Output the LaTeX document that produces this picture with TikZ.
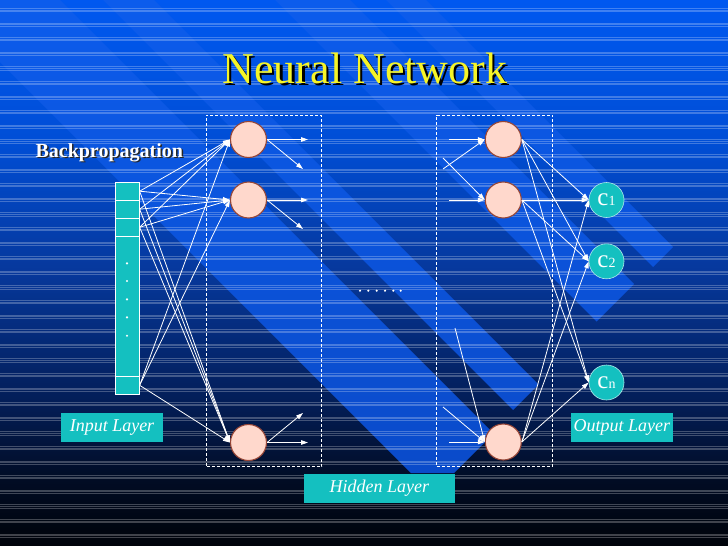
\documentclass[tikz,border=0pt]{standalone}
\usepackage{fontspec}
\setmainfont{Liberation Serif}
\usetikzlibrary{arrows.meta}
\definecolor{bgA}{RGB}{0,88,240}
\definecolor{bgB}{RGB}{0,78,214}
\definecolor{bgC}{RGB}{6,56,156}
\definecolor{bgD}{RGB}{3,30,88}
\definecolor{bgE}{RGB}{1,12,36}
\definecolor{bgF}{RGB}{0,3,10}
\definecolor{bandtop}{RGB}{12,92,236}
\definecolor{bandbot}{RGB}{10,72,196}
\definecolor{tealc}{RGB}{20,192,192}
\definecolor{peach}{RGB}{255,216,204}
\definecolor{nborder}{RGB}{150,70,55}
\definecolor{titley}{RGB}{245,245,40}
\newcommand{\shadowtext}[3]{\makebox[0pt][l]{\hspace*{#1}\raisebox{-#1}{\color{#2}#3}}#3}
\tikzset{
  neuron/.style={circle, fill=peach, draw=nborder, line width=1.1pt, minimum size=36pt, inner sep=0pt},
  outnode/.style={circle, fill=tealc, draw=white!65!tealc, line width=0.6pt, minimum size=35pt, inner sep=0pt, text=white, font=\fontsize{25}{25}\selectfont},
  layerbox/.style={fill=tealc, text=white, font=\fontsize{18}{20}\selectfont\itshape, inner sep=0pt},
  cell/.style={draw=white, fill=tealc, line width=0.7pt, minimum width=23.6pt, inner sep=0pt},
  hiddenbox/.style={draw=white, line width=0.7pt, dash pattern=on 3pt off 2pt, inner sep=0pt},
  conn/.style={draw=white, line width=0.8pt, -{Triangle[length=7pt,width=4.5pt]}},
  stripe/.style={draw=white, draw opacity=0.25, line width=0.7pt},
  dotmark/.style={fill=white}
}
\begin{document}
\begin{tikzpicture}[x=1pt,y=-1pt]
\useasboundingbox (0,0) rectangle (728,546);
% background gradient
\shade[top color=bgA, bottom color=bgB] (0,0) rectangle (728,140.5);
\shade[top color=bgB, bottom color=bgC] (0,140) rectangle (728,270.5);
\shade[top color=bgC, bottom color=bgD] (0,270) rectangle (728,400.5);
\shade[top color=bgD, bottom color=bgE] (0,400) rectangle (728,480.5);
\shade[top color=bgE, bottom color=bgF] (0,480) rectangle (728,546);
% diagonal bands
\begin{scope}
  \clip (-162,-100) -- (411,473) -- (454,473) -- (493.5,433.5) -- (-40,-100) -- cycle
        (3,-100) -- (513,410) -- (538.5,384.5) -- (54,-100) -- cycle
        (175,-100) -- (596.5,321.5) -- (634,284) -- (250,-100) -- cycle
        (286,-100) -- (653,267) -- (673,247) -- (326,-100) -- cycle;
  \shade[top color=bandtop, bottom color=bandbot] (0,0) rectangle (728,546);
\end{scope}
% horizontal stripes
\foreach \k in {0,...,36}{
  \pgfmathsetmacro{\yc}{10+14.6*\k}
  \pgfmathsetmacro{\ya}{\yc-1.6}
  \pgfmathsetmacro{\yb}{\yc+1.6}
  \draw[stripe] (0,\ya) -- (728,\ya);
  \draw[stripe] (0,\yc) -- (728,\yc);
  \draw[stripe] (0,\yb) -- (728,\yb);
}
% title
\node[anchor=base, text=titley, font=\fontsize{44}{48}\selectfont] (title) at (365,83) {\shadowtext{2.2pt}{black}{Neural Network}};
\node[anchor=base west, text=white, font=\fontsize{20}{22}\selectfont\bfseries] (bp) at (32,157) {\shadowtext{1.5pt}{black!85}{Backpropagation}};
% dashed hidden boxes
\node[hiddenbox, minimum width=115pt, minimum height=351.7pt] (hbox1) at (264.2,290.85) {};
\node[hiddenbox, minimum width=115.6pt, minimum height=351.7pt] (hbox2) at (494.5,290.85) {};
% input column
\node[cell, minimum height=18pt] (in1) at (127.5,191.2) {};
\node[cell, minimum height=18.3pt] (in2) at (127.5,209.2) {};
\node[cell, minimum height=18pt] (in3) at (127.5,227.3) {};
\node[cell, minimum height=140pt] (inmid) at (127.5,306.3) {};
\node[cell, minimum height=18pt] (in4) at (127.5,385.3) {};
\foreach \yy in {263.3,281,299.3,317.3,335.7}{
  \fill[dotmark] (127,\yy) circle (1.2pt);
}
% ellipsis between hidden boxes
\foreach \xx in {360,368.3,376.7,385,393.3,400.7}{
  \fill[dotmark] (\xx,290.7) circle (1.2pt);
}
% layer labels
\node[layerbox, minimum width=101.7pt, minimum height=28.4pt] (inputlabel) at (112,427.5) {Input Layer};
\node[layerbox, minimum width=101.7pt, minimum height=28.4pt] (outputlabel) at (621.8,427.5) {Output Layer};
\node[layerbox, minimum width=150.7pt, minimum height=28.7pt] (hiddenlabel) at (379.3,488.3) {Hidden Layer};
% neurons
\node[neuron] (h1) at (248.5,139.5) {};
\node[neuron] (h2) at (248.5,200) {};
\node[neuron] (h3) at (248.5,442.5) {};
\node[neuron] (r1) at (503.3,139.5) {};
\node[neuron] (r2) at (503.3,200) {};
\node[neuron] (r3) at (503.3,442) {};
\node[outnode] (c1) at (606.5,200) {c{\fontsize{14}{14}\selectfont 1}};
\node[outnode] (c2) at (606.5,261.3) {c{\fontsize{14}{14}\selectfont 2}};
\node[outnode] (cn) at (606.5,382.5) {c{\fontsize{14}{14}\selectfont n}};
% free ends
\coordinate (ha1) at (308,139.5);
\coordinate (hb1) at (303,169);
\coordinate (ha2) at (308,200);
\coordinate (hb2) at (303,229);
\coordinate (hb3) at (303,413);
\coordinate (ha3) at (308,442.5);
\coordinate (sa1) at (449,139.5);
\coordinate (sb1) at (443,169);
\coordinate (sb2) at (443,158);
\coordinate (sa2) at (449,200);
\coordinate (sc3) at (455,328);
\coordinate (sb3) at (443,407);
\coordinate (sa3) at (449,442);
% connections input -> hidden
\foreach \i in {in1,in2,in3,in4}{
  \foreach \h in {h1,h2,h3}{
    \draw[conn] (\i.east) -- (\h.west);
  }
}
% hidden (last) -> output
\foreach \r in {r1,r2,r3}{
  \foreach \c in {c1,c2,cn}{
    \draw[conn] (\r.east) -- (\c.west);
  }
}
% outgoing from first hidden layer
\draw[conn] (h1.east) -- (ha1);
\draw[conn] (h1.east) -- (hb1);
\draw[conn] (h2.east) -- (ha2);
\draw[conn] (h2.east) -- (hb2);
\draw[conn] (h3.east) -- (hb3);
\draw[conn] (h3.east) -- (ha3);
% incoming to last hidden layer
\draw[conn] (sa1) -- (r1.west);
\draw[conn] (sb1) -- (r1.west);
\draw[conn] (sb2) -- (r2.west);
\draw[conn] (sa2) -- (r2.west);
\draw[conn] (sc3) -- (r3.west);
\draw[conn] (sb3) -- (r3.west);
\draw[conn] (sa3) -- (r3.west);
\end{tikzpicture}
\end{document}
